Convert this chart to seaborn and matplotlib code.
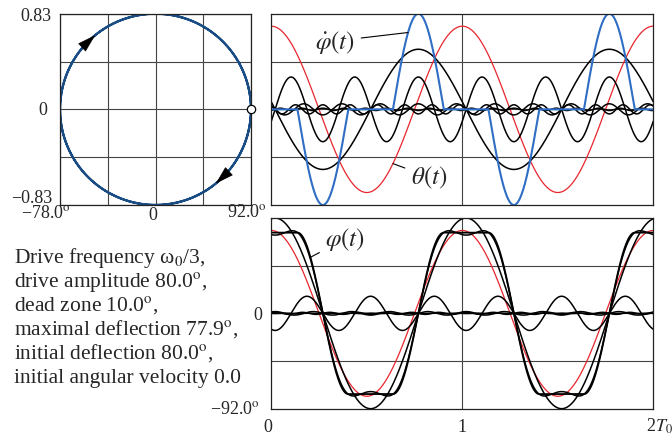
import numpy as np
import pandas as pd
import matplotlib
matplotlib.use("Agg")
import matplotlib.pyplot as plt
import seaborn as sns

# ---------------- data ----------------
T_RANGE = [0.0, 2.0]                 # time in units of T0
DRIVE_AMP = 80.0                     # theta(t) amplitude, degrees
PHI_MAX = 77.9                       # maximal deflection (flat parts), degrees
PHI_BREAKS = [0.137, 0.403, 0.637, 0.903]   # top end, bottom start, bottom end, top start (per period)
PHI_AXIS = 92.0                      # lower panel half-range, degrees
VEL_AXIS = 0.83                      # phase-plane velocity half-range
HARM_ORDERS = [1, 3, 5, 7, 9]
HARM_AMPS = [92.0, -16.5, 1.7, 1.0, -0.2]   # Fourier harmonics of phi, degrees
HARM_SHIFT = 0.02                    # harmonics peak shift (T0)
TIME_TICKS = [0, 1, 2]
TIME_LABELS = ["0", "1", "2$T_0$"]
PHASE_X_LABELS = ["\u221278.0$^{\\rm o}$", "0", "92.0$^{\\rm o}$"]
PHASE_Y_LABELS = ["0.83", "0", "\u22120.83"]
LOWER_Y_LABELS = ["0", "\u221292.0$^{\\rm o}$"]
INFO_LINES = [
    "Drive frequency \u03c9$_0$/3,",
    "drive amplitude 80.0$^{\\rm o}$,",
    "dead zone 10.0$^{\\rm o}$,",
    "maximal deflection 77.9$^{\\rm o}$,",
    "initial deflection 80.0$^{\\rm o}$,",
    "initial angular velocity 0.0",
]

# ---------------- derived series ----------------
t = np.linspace(T_RANGE[0], T_RANGE[1], 4001)
tt = np.mod(t, 1.0)
b0, b1, b2, b3 = PHI_BREAKS
phi = np.where(
    (tt < b0) | (tt >= b3), PHI_MAX,
    np.where(tt < b1, PHI_MAX * np.cos(np.pi * (tt - b0) / (b1 - b0)),
             np.where(tt < b2, -PHI_MAX,
                      -PHI_MAX * np.cos(np.pi * (tt - b2) / (b3 - b2)))))
phidot = np.gradient(phi, t)
vmax = np.max(np.abs(phidot))
theta = DRIVE_AMP * np.cos(2 * np.pi * t)

harm = {n: a * np.cos(2 * np.pi * n * (t - HARM_SHIFT)) for n, a in zip(HARM_ORDERS, HARM_AMPS)}
harm_vel = {n: -a * 2 * np.pi * n * np.sin(2 * np.pi * n * (t - HARM_SHIFT)) for n, a in zip(HARM_ORDERS, HARM_AMPS)}
partial = harm[1] + harm[3]

vel_scaled = phidot / vmax * VEL_AXIS
theta_up = theta / PHI_AXIS * VEL_AXIS

# ---------------- style ----------------
sns.set_theme(style="white")
plt.rcParams["font.family"] = ["Liberation Serif", "DejaVu Serif"]
plt.rcParams["mathtext.fontset"] = "stix"

RED = "#e8262e"
BLUE = "#2f6ec4"
DARKBLUE = "#1b4d85"
GRID = "#444444"
FS_TICK = 13
FS_INFO = 15.5
FS_ANN = 18

W, H = 672, 439
fig = plt.figure(figsize=(W / 100, H / 100), dpi=100)

def px_axes(l, t_, r, b):
    return fig.add_axes([l / W, 1 - b / H, (r - l) / W, (b - t_) / H])

ax_ph = px_axes(60, 14.7, 251, 206)
ax_up = px_axes(271.3, 14.7, 653.3, 206)
ax_lo = px_axes(271.3, 219, 653.3, 409.7)

for ax in (ax_ph, ax_up, ax_lo):
    for s in ax.spines.values():
        s.set_color("#222222")
        s.set_linewidth(0.9)
    ax.tick_params(length=0, labelbottom=False, labelleft=False)
    ax.grid(True, color=GRID, lw=0.8)
    ax.set_axisbelow(True)

# ---- phase plane ----
ph = pd.DataFrame({"phi": phi, "v": vel_scaled})
sns.lineplot(data=ph, x="phi", y="v", sort=False, estimator=None, ax=ax_ph, color=DARKBLUE, lw=1.6)
ax_ph.set_xlim(-PHI_MAX, PHI_MAX)
ax_ph.set_ylim(-VEL_AXIS, VEL_AXIS)
ax_ph.set_xticks(np.linspace(-PHI_MAX, PHI_MAX, 5))
ax_ph.set_yticks(np.linspace(-VEL_AXIS, VEL_AXIS, 5))
ax_ph.set_xlabel("")
ax_ph.set_ylabel("")
# direction arrows (clockwise)
for ang in (np.deg2rad(132), np.deg2rad(-48)):
    tip = (PHI_MAX * np.cos(ang - 0.05), VEL_AXIS * np.sin(ang - 0.05))
    tail = (PHI_MAX * np.cos(ang + 0.08), VEL_AXIS * np.sin(ang + 0.08))
    ax_ph.annotate("", xy=tip, xytext=tail,
                   arrowprops=dict(arrowstyle="-|>,head_length=1.0,head_width=0.3", color="black", lw=0.5,
                                   shrinkA=0, shrinkB=0))
ax_ph.plot([PHI_MAX], [0], "o", ms=6, mfc="white", mec="black", mew=0.9, clip_on=False, zorder=5)

# phase-plane labels
ax_ph.text(-0.042, 0.99, PHASE_Y_LABELS[0], transform=ax_ph.transAxes, ha="right", va="center", fontsize=FS_TICK)
ax_ph.text(-0.068, 0.5, PHASE_Y_LABELS[1], transform=ax_ph.transAxes, ha="right", va="center", fontsize=FS_TICK)
ax_ph.text(-0.042, 0.04, PHASE_Y_LABELS[2], transform=ax_ph.transAxes, ha="right", va="center", fontsize=FS_TICK)
ax_ph.text(-0.073, -0.062, PHASE_X_LABELS[0], transform=ax_ph.transAxes, ha="center", va="baseline", fontsize=FS_TICK)
ax_ph.text(0.487, -0.075, PHASE_X_LABELS[1], transform=ax_ph.transAxes, ha="center", va="baseline", fontsize=FS_TICK)
ax_ph.text(0.976, -0.055, PHASE_X_LABELS[2], transform=ax_ph.transAxes, ha="center", va="baseline", fontsize=FS_TICK)

# ---- upper right: velocities ----
sns.lineplot(x=t, y=theta_up, ax=ax_up, color=RED, lw=0.9, estimator=None)
for n in HARM_ORDERS:
    sns.lineplot(x=t, y=harm_vel[n] / vmax * VEL_AXIS, ax=ax_up, color="black", lw=1.1, estimator=None)
sns.lineplot(x=t, y=vel_scaled, ax=ax_up, color=BLUE, lw=1.5, estimator=None)
ax_up.set_xlim(*T_RANGE)
ax_up.set_ylim(-VEL_AXIS, VEL_AXIS)
ax_up.set_xticks([1])
ax_up.set_yticks(np.linspace(-VEL_AXIS, VEL_AXIS, 5)[1:-1])
ax_up.set_xlabel("")
ax_up.set_ylabel("")

t_a = 0.716
ax_up.annotate(r"$\dot{\varphi}(t)$", xy=(t_a, np.interp(t_a, t, vel_scaled)),
               xytext=(0.115, 0.857), textcoords="axes fraction", ha="left", va="center", fontsize=FS_ANN,
               arrowprops=dict(arrowstyle="-", color="black", lw=0.8, shrinkA=2, shrinkB=0))
t_b = 0.637
ax_up.annotate(r"$\theta(t)$", xy=(t_b, np.interp(t_b, t, theta_up)),
               xytext=(0.365, 0.146), textcoords="axes fraction", ha="left", va="center", fontsize=FS_ANN,
               arrowprops=dict(arrowstyle="-", color="black", lw=0.8, shrinkA=2, shrinkB=0))

# ---- lower: deflections ----
sns.lineplot(x=t, y=theta, ax=ax_lo, color=RED, lw=0.9, estimator=None)
for n in HARM_ORDERS:
    sns.lineplot(x=t, y=harm[n], ax=ax_lo, color="black", lw=1.1, estimator=None)
sns.lineplot(x=t, y=partial, ax=ax_lo, color="black", lw=1.1, estimator=None)
sns.lineplot(x=t, y=phi, ax=ax_lo, color="black", lw=1.3, estimator=None)
ax_lo.set_xlim(*T_RANGE)
ax_lo.set_ylim(-PHI_AXIS, PHI_AXIS)
ax_lo.set_xticks([1])
ax_lo.set_yticks(np.linspace(-PHI_AXIS, PHI_AXIS, 5)[1:-1])
ax_lo.set_xlabel("")
ax_lo.set_ylabel("")

t_c = 0.205
ax_lo.annotate(r"$\varphi(t)$", xy=(t_c, np.interp(t_c, t, phi)),
               xytext=(0.141, 0.89), textcoords="axes fraction", ha="left", va="center", fontsize=FS_ANN,
               arrowprops=dict(arrowstyle="-", color="black", lw=0.8, shrinkA=2, shrinkB=0))

ax_lo.text(-0.024, 0.47, LOWER_Y_LABELS[0], transform=ax_lo.transAxes, ha="right", va="baseline", fontsize=FS_TICK)
ax_lo.text(-0.030, -0.023, LOWER_Y_LABELS[1], transform=ax_lo.transAxes, ha="right", va="baseline", fontsize=FS_TICK)
for tv, lab in zip(TIME_TICKS, TIME_LABELS):
    frac = (tv - T_RANGE[0]) / (T_RANGE[1] - T_RANGE[0])
    if tv == TIME_TICKS[-1]:
        ax_lo.text(0.98, -0.117, lab, transform=ax_lo.transAxes, ha="left", va="baseline", fontsize=FS_TICK)
    else:
        ax_lo.text(frac - 0.009 * (tv == 0), -0.117, lab, transform=ax_lo.transAxes, ha="center", va="baseline",
                   fontsize=FS_TICK)

# ---- info text ----
for i, line in enumerate(INFO_LINES):
    fig.text(14 / W, 1 - (263 + 24 * i) / H, line, ha="left", va="baseline", fontsize=FS_INFO)

fig.savefig("out.png", dpi=100)
